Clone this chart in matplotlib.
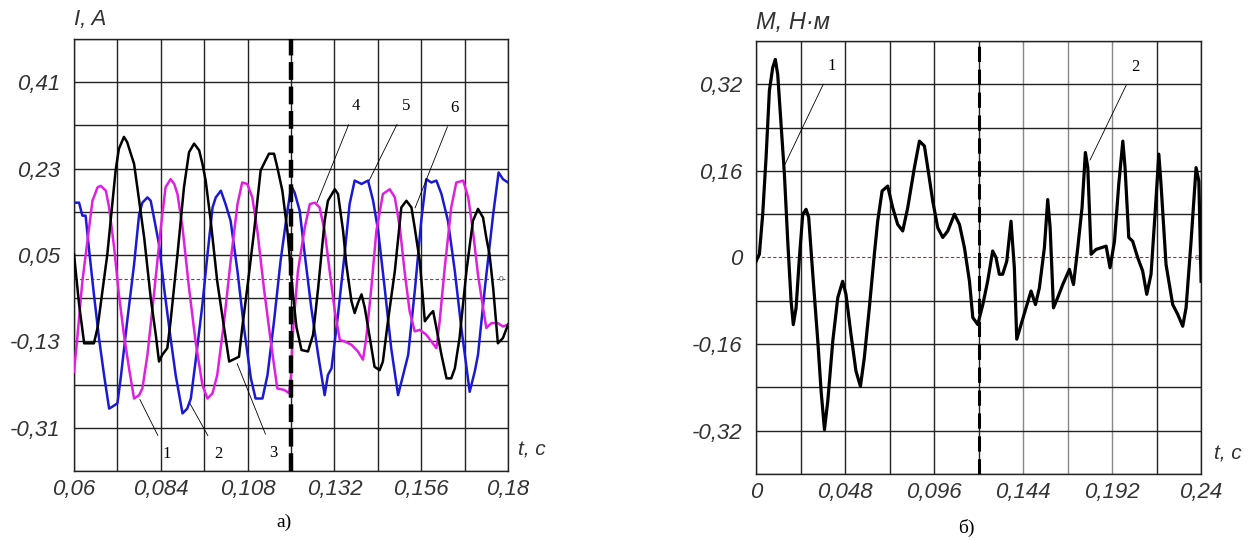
import numpy as np
import matplotlib
matplotlib.use("Agg")
import matplotlib.pyplot as plt

plt.rcParams['font.family'] = ['Liberation Sans', 'DejaVu Sans']

#_________________ ДАННЫЕ: токи (рис. а) ____________________#
t_black = [0.0600, 0.0614, 0.0628, 0.0655, 0.0665, 0.0692, 0.0715, 0.0724, 0.0738, 0.0747,
           0.0757, 0.0766, 0.0775, 0.0794, 0.0812, 0.0826, 0.0835, 0.0844, 0.0858, 0.0867,
           0.0886, 0.0904, 0.0918, 0.0932, 0.0946, 0.0955, 0.0964, 0.0978, 0.0996, 0.1015,
           0.1029, 0.1056, 0.1065, 0.1079, 0.1098, 0.1116, 0.1125, 0.1139, 0.1153, 0.1162,
           0.1176, 0.1190, 0.1205, 0.1215, 0.1229, 0.1247, 0.1261, 0.1275, 0.1293, 0.1302,
           0.1321, 0.1330, 0.1344, 0.1353, 0.1367, 0.1376, 0.1385, 0.1395, 0.1404, 0.1418,
           0.1431, 0.1445, 0.1454, 0.1468, 0.1487, 0.1505, 0.1519, 0.1533, 0.1542, 0.1556,
           0.1570, 0.1584, 0.1593, 0.1602, 0.1616, 0.1630, 0.1643, 0.1653, 0.1666, 0.1685,
           0.1703, 0.1717, 0.1731, 0.1740, 0.1749, 0.1759, 0.1772, 0.1786, 0.1800]
i_black = [0.051, -0.053, -0.134, -0.134, -0.102, 0.051, 0.226, 0.271, 0.296, 0.285,
           0.261, 0.240, 0.191, 0.086, -0.039, -0.116, -0.172, -0.158, -0.144, -0.088,
           0.051, 0.191, 0.264, 0.282, 0.268, 0.240, 0.205, 0.121, -0.005, -0.102,
           -0.172, -0.162, -0.102, -0.019, 0.100, 0.226, 0.240, 0.261, 0.261, 0.233,
           0.184, 0.100, -0.030, -0.100, -0.148, -0.151, -0.116, -0.019, 0.121, 0.163,
           0.187, 0.177, 0.100, 0.030, -0.046, -0.071, -0.050, -0.032, -0.060, -0.123,
           -0.183, -0.190, -0.172, -0.088, 0.016, 0.149, 0.163, 0.149, 0.107, 0.037,
           -0.088, -0.074, -0.067, -0.102, -0.158, -0.207, -0.207, -0.186, -0.123, 0.016,
           0.121, 0.146, 0.128, 0.086, 0.051, -0.019, -0.134, -0.123, -0.095]

t_blue = [0.0600, 0.0614, 0.0623, 0.0632, 0.0641, 0.0655, 0.0669, 0.0683, 0.0697, 0.0706,
          0.0720, 0.0729, 0.0747, 0.0766, 0.0780, 0.0789, 0.0803, 0.0812, 0.0821, 0.0835,
          0.0849, 0.0867, 0.0881, 0.0900, 0.0913, 0.0923, 0.0936, 0.0955, 0.0969, 0.0983,
          0.0992, 0.1006, 0.1019, 0.1033, 0.1052, 0.1070, 0.1089, 0.1102, 0.1121, 0.1135,
          0.1153, 0.1171, 0.1190, 0.1201, 0.1210, 0.1224, 0.1238, 0.1256, 0.1275, 0.1293,
          0.1302, 0.1312, 0.1330, 0.1348, 0.1362, 0.1376, 0.1395, 0.1413, 0.1427, 0.1441,
          0.1459, 0.1477, 0.1496, 0.1510, 0.1524, 0.1543, 0.1560, 0.1574, 0.1588, 0.1602,
          0.1616, 0.1634, 0.1653, 0.1671, 0.1694, 0.1708, 0.1717, 0.1736, 0.1759, 0.1774,
          0.1786, 0.1800]
i_blue = [0.159, 0.159, 0.132, 0.132, 0.065, -0.032, -0.123, -0.200, -0.270, -0.266,
          -0.259, -0.207, -0.088, 0.030, 0.135, 0.159, 0.170, 0.163, 0.128, 0.072,
          -0.019, -0.123, -0.200, -0.280, -0.270, -0.249, -0.172, -0.053, 0.051, 0.149,
          0.170, 0.184, 0.156, 0.121, 0.016, -0.102, -0.207, -0.249, -0.249, -0.200,
          -0.088, 0.037, 0.142, 0.194, 0.180, 0.142, 0.051, -0.060, -0.158, -0.242,
          -0.200, -0.186, -0.074, 0.051, 0.156, 0.205, 0.198, 0.205, 0.163, 0.100,
          -0.019, -0.144, -0.242, -0.200, -0.158, -0.019, 0.121, 0.208, 0.201, 0.205,
          0.177, 0.121, 0.016, -0.102, -0.235, -0.193, -0.158, -0.019, 0.135, 0.222,
          0.208, 0.201]

t_mag = [0.0600, 0.0609, 0.0623, 0.0637, 0.0651, 0.0665, 0.0674, 0.0688, 0.0697, 0.0711,
         0.0724, 0.0738, 0.0752, 0.0766, 0.0780, 0.0789, 0.0803, 0.0821, 0.0840, 0.0853,
         0.0867, 0.0877, 0.0886, 0.0900, 0.0918, 0.0936, 0.0955, 0.0969, 0.0983, 0.0996,
         0.1015, 0.1033, 0.1052, 0.1065, 0.1079, 0.1093, 0.1107, 0.1125, 0.1144, 0.1162,
         0.1181, 0.1195, 0.1200, 0.1206, 0.1219, 0.1238, 0.1252, 0.1266, 0.1279, 0.1293,
         0.1307, 0.1321, 0.1335, 0.1348, 0.1367, 0.1385, 0.1399, 0.1408, 0.1422, 0.1436,
         0.1454, 0.1473, 0.1487, 0.1501, 0.1514, 0.1528, 0.1542, 0.1556, 0.1574, 0.1588,
         0.1602, 0.1611, 0.1625, 0.1643, 0.1657, 0.1676, 0.1690, 0.1703, 0.1717, 0.1731,
         0.1740, 0.1754, 0.1772, 0.1786, 0.1800]
i_mag = [-0.193, -0.123, -0.005, 0.079, 0.163, 0.191, 0.194, 0.184, 0.149, 0.065,
         -0.032, -0.116, -0.186, -0.249, -0.242, -0.228, -0.158, -0.032, 0.107, 0.191,
         0.208, 0.198, 0.177, 0.107, -0.019, -0.130, -0.221, -0.249, -0.238, -0.200,
         -0.088, 0.037, 0.156, 0.201, 0.198, 0.170, 0.100, -0.019, -0.130, -0.228,
         -0.231, -0.238, -0.200, -0.102, 0.016, 0.107, 0.156, 0.159, 0.149, 0.100,
         0.016, -0.067, -0.127, -0.130, -0.137, -0.151, -0.168, -0.123, -0.019, 0.100,
         0.177, 0.187, 0.170, 0.107, 0.016, -0.067, -0.109, -0.106, -0.116, -0.130,
         -0.144, -0.088, 0.023, 0.149, 0.201, 0.205, 0.170, 0.100, 0.009, -0.060,
         -0.102, -0.092, -0.092, -0.099, -0.095]

#_________________ ДАННЫЕ: момент (рис. б) ____________________#
t_m = [0.0000, 0.0018, 0.0036, 0.0054, 0.0072, 0.0090, 0.0104, 0.0117, 0.0135, 0.0153,
       0.0171, 0.0189, 0.0201, 0.0216, 0.0234, 0.0252, 0.0270, 0.0284, 0.0306, 0.0333,
       0.0351, 0.0369, 0.0387, 0.0414, 0.0441, 0.0467, 0.0485, 0.0512, 0.0539, 0.0563,
       0.0584, 0.0611, 0.0638, 0.0656, 0.0680, 0.0710, 0.0737, 0.0764, 0.0791, 0.0818,
       0.0854, 0.0881, 0.0908, 0.0926, 0.0953, 0.0980, 0.1007, 0.1034, 0.1070, 0.1097,
       0.1124, 0.1151, 0.1169, 0.1196, 0.1205, 0.1223, 0.1249, 0.1276, 0.1294, 0.1312,
       0.1330, 0.1352, 0.1375, 0.1393, 0.1406, 0.1429, 0.1456, 0.1483, 0.1507, 0.1528,
       0.1555, 0.1573, 0.1586, 0.1604, 0.1627, 0.1654, 0.1690, 0.1712, 0.1735, 0.1758,
       0.1776, 0.1789, 0.1807, 0.1834, 0.1861, 0.1888, 0.1909, 0.1933, 0.1956, 0.1978,
       0.1990, 0.2010, 0.2031, 0.2058, 0.2085, 0.2107, 0.2130, 0.2154, 0.2172, 0.2184,
       0.2211, 0.2247, 0.2274, 0.2301, 0.2319, 0.2346, 0.2373, 0.2388, 0.2400]
m_val = [-0.007, 0.006, 0.080, 0.184, 0.308, 0.351, 0.366, 0.338, 0.246, 0.154,
         0.030, -0.080, -0.124, -0.093, 0.000, 0.080, 0.089, 0.074, -0.031, -0.154,
         -0.247, -0.318, -0.265, -0.154, -0.074, -0.044, -0.068, -0.142, -0.210, -0.238,
         -0.185, -0.093, 0.006, 0.067, 0.123, 0.132, 0.092, 0.061, 0.049, 0.092,
         0.166, 0.215, 0.206, 0.166, 0.104, 0.055, 0.037, 0.049, 0.080, 0.061,
         0.018, -0.044, -0.111, -0.124, -0.111, -0.087, -0.044, 0.012, 0.000, -0.031,
         -0.031, -0.007, 0.067, -0.019, -0.151, -0.124, -0.093, -0.062, -0.087, -0.056,
         0.018, 0.107, 0.055, -0.093, -0.074, -0.050, -0.022, -0.050, 0.018, 0.092,
         0.194, 0.166, 0.006, 0.015, 0.018, 0.021, -0.019, 0.030, 0.135, 0.215,
         0.166, 0.037, 0.030, 0.000, -0.025, -0.068, -0.031, 0.092, 0.191, 0.135,
         -0.013, -0.087, -0.105, -0.127, -0.093, 0.030, 0.166, 0.141, -0.044]

# сетка и подписи осей
xa_ticks = [0.06 + 0.012 * k for k in range(11)]
xa_labels = ['0,06', '', '0,084', '', '0,108', '', '0,132', '', '0,156', '', '0,18']
ya_ticks = [-0.40 + 0.09 * k for k in range(11)]
ya_labels = ['', '-0,31', '', '-0,13', '', '0,05', '', '0,23', '', '0,41', '']
xb_ticks = [0.024 * k for k in range(11)]
xb_labels = ['0', '', '0,048', '', '0,096', '', '0,144', '', '0,192', '', '0,24']
yb_ticks = [-0.40 + 0.08 * k for k in range(11)]
yb_labels = ['', '-0,32', '', '-0,16', '', '0', '', '0,16', '', '0,32', '']

t_switch = 0.12

fig = plt.figure(figsize=(12.59, 5.40), dpi=100)
ax1 = fig.add_axes([0.0588, 0.1278, 0.3447, 0.800])
ax2 = fig.add_axes([0.6005, 0.1222, 0.3535, 0.8019])

def setup(ax, xt, xl, yt, yl):
    ax.set_xlim(xt[0], xt[-1])
    ax.set_ylim(yt[0], yt[-1])
    ax.set_xticks(xt)
    ax.set_xticklabels(xl)
    ax.set_yticks(yt)
    ax.set_yticklabels(yl)
    ax.tick_params(length=0, labelsize=16, labelcolor='#333333')
    ax.tick_params(axis='y', pad=10)
    ax.tick_params(axis='x', pad=6)
    for lab in ax.get_xticklabels() + ax.get_yticklabels():
        lab.set_fontstyle('italic')
    ax.grid(True, color='#222222', lw=1.0)
    for s in ax.spines.values():
        s.set_color('#222222')
        s.set_linewidth(1.0)
    ax.set_axisbelow(True)

setup(ax1, xa_ticks, xa_labels, ya_ticks, ya_labels)
setup(ax2, xb_ticks, xb_labels, yb_ticks, yb_labels)
ax2.get_ygridlines()[5].set_visible(False)
for gl in ax2.get_xgridlines()[6:9]:
    gl.set_color('#888888')

# ____ рис. а ____
ax1.axhline(0, color='#b03030', lw=0.8, ls=(0, (3, 2)), zorder=2)
ax1.plot(t_blue, i_blue, color='#1a1ad2', lw=1.8, zorder=3)
ax1.plot(t_mag, i_mag, color='#e020e0', lw=1.8, zorder=3)
ax1.plot(t_black, i_black, color='black', lw=1.8, zorder=4)
ax1.axvline(t_switch, color='black', lw=3.2, ls=(0, (4, 1.5)), zorder=5)
ax1.text(0.985, 0.444, '0', transform=ax1.transAxes, fontsize=6, color='#555555',
         ha='center', va='center')

lead = dict(arrowstyle='-', color='black', lw=0.6, shrinkB=0, shrinkA=6)
ax1.annotate('1', xy=(0.0782, -0.251), xytext=(0.0857, -0.364), fontsize=12,
             family='Liberation Serif', ha='center', va='center', arrowprops=lead)
ax1.annotate('2', xy=(0.0921, -0.260), xytext=(0.0998, -0.364), fontsize=12,
             family='Liberation Serif', ha='center', va='center', arrowprops=lead)
ax1.annotate('3', xy=(0.1051, -0.176), xytext=(0.1150, -0.362), fontsize=12,
             family='Liberation Serif', ha='center', va='center', arrowprops=lead)
ax1.annotate('4', xy=(0.1272, 0.159), xytext=(0.1380, 0.360), fontsize=12,
             family='Liberation Serif', ha='center', va='center', arrowprops=lead)
ax1.annotate('5', xy=(0.1416, 0.205), xytext=(0.1518, 0.360), fontsize=12,
             family='Liberation Serif', ha='center', va='center', arrowprops=lead)
ax1.annotate('6', xy=(0.1543, 0.148), xytext=(0.1653, 0.356), fontsize=12,
             family='Liberation Serif', ha='center', va='center', arrowprops=lead)

ax1.text(0.0, 1.020, 'I, A', transform=ax1.transAxes, fontsize=16, style='italic',
         color='#333333', ha='left', va='bottom')
ax1.text(1.023, 0.026, 't, с', transform=ax1.transAxes, fontsize=15, style='italic',
         color='#333333', ha='left', va='bottom')
fig.text(284 / 1259, 1 - 522 / 540, 'а)', fontsize=14, family='Liberation Serif',
         ha='center', va='center')

# ____ рис. б ____
ax2.axhline(0, color='#b03030', lw=0.8, ls=(0, (3, 2)), zorder=2)
ax2.plot(t_m, m_val, color='black', lw=2.3, zorder=4)
ax2.axvline(t_switch, color='black', lw=2.2, ls=(0, (5, 2.5)), zorder=5)
ax2.text(0.99, 0.497, '0', transform=ax2.transAxes, fontsize=6, color='#555555',
         ha='center', va='center')
ax2.annotate('1', xy=(0.0146, 0.165), xytext=(0.0410, 0.354), fontsize=12,
             family='Liberation Serif', ha='center', va='center', arrowprops=lead)
ax2.annotate('2', xy=(0.1801, 0.180), xytext=(0.2044, 0.352), fontsize=12,
             family='Liberation Serif', ha='center', va='center', arrowprops=lead)

ax2.text(0.0, 1.016, 'M, Н·м', transform=ax2.transAxes, fontsize=17, style='italic',
         color='#333333', ha='left', va='bottom')
ax2.text(1.03, 0.025, 't, с', transform=ax2.transAxes, fontsize=15, style='italic',
         color='#333333', ha='left', va='bottom')
fig.text(966 / 1259, 1 - 528 / 540, 'б)', fontsize=14, family='Liberation Serif',
         ha='center', va='center')

fig.savefig('out.png', dpi=100)
